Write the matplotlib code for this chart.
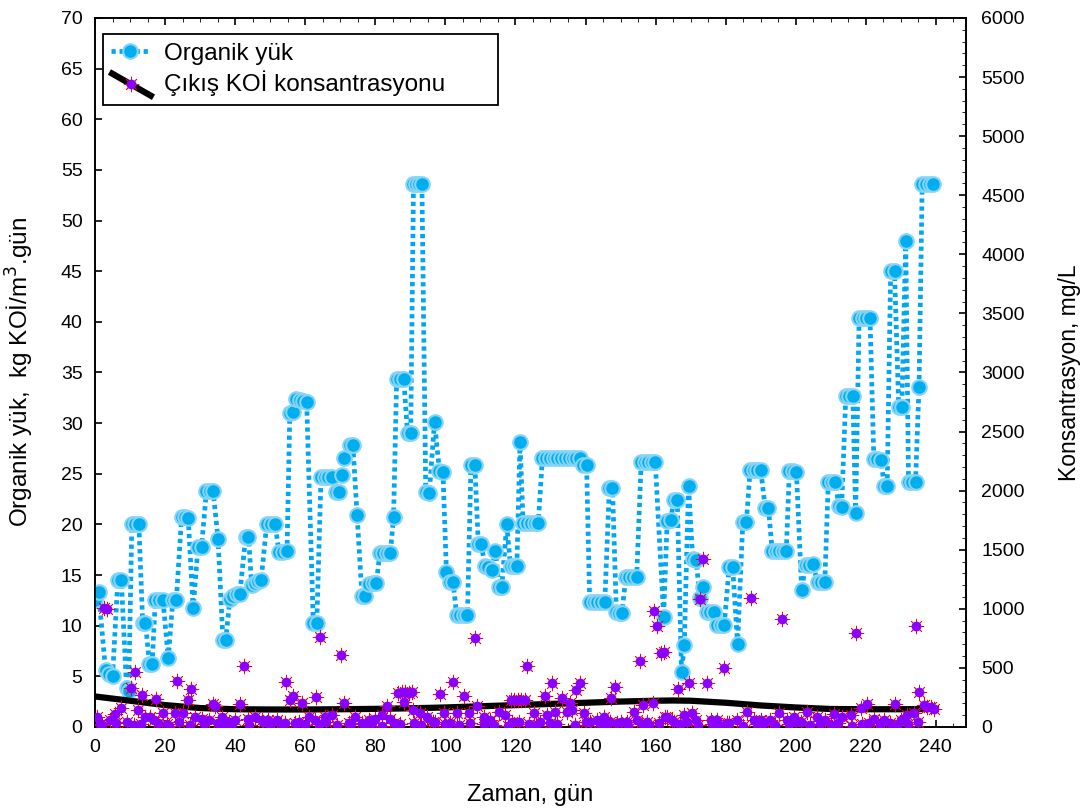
import matplotlib
matplotlib.use("Agg")
import matplotlib.pyplot as plt
from matplotlib.lines import Line2D
from matplotlib.ticker import MultipleLocator

plt.rcParams['font.family'] = ['Liberation Sans', 'DejaVu Sans']

# organic loading rate, kg KOI/m3.gun (left axis)
load_day = [0, 1, 3, 4, 5, 6.5, 7.5, 9, 9.6, 10.5, 11.5, 12.5, 13.6, 14.4, 15.5, 16.3,
            17.2, 18.3, 19.4, 20.9, 22.2, 23.2, 24.7, 25.7, 26.6, 28, 29.4, 30.4, 31.8,
            32.8, 33.7, 35.1, 36.5, 37.3, 38.5, 39.5, 40.5, 41.3, 43, 43.8, 44.7, 45.6,
            46.5, 47.4,
            49, 50.2, 51.4, 52.5, 53.6, 54.8, 55.6, 56.5, 57.4, 58.4, 59.4, 60.4, 62.3,
            63.3, 64.5, 65.5, 66.6, 67.7, 68.8, 69.6, 70.4, 71.1, 72.7, 73.6, 74.8, 76.2,
            77.1, 78.3, 79.3, 80.3, 81.3, 82.3, 83.3, 84.3, 85.2, 86.1, 87.1, 88.1, 89.2,
            90.1, 90.9, 91.7, 92.5, 93.3, 94.4, 95.4, 96.9, 98.3, 99.3,
            100.3, 101.3, 102.2, 103.2, 104.2, 105.3, 106.3, 107.3, 108.4, 109.4, 110.2,
            111.3, 112.3, 113.2, 114.3, 115.3, 116.1, 117.5, 118.6, 119.5, 120.4, 121.3,
            122.2, 123.3, 124.4, 125.5, 126.5, 127.7, 128.8, 129.9, 131, 132, 133.1,
            134.2, 135.3, 136.3, 137.4, 138.5, 139.4, 140.3, 141.2, 142.3, 143.4, 144.5,
            145.5,
            146.8, 147.7, 148.8, 149.6, 150.4, 151.5, 152.5, 153.5, 154.6, 155.9, 156.9,
            157.9, 158.9, 159.9, 162.3, 163.3, 164.3, 165.2, 166.2, 167.4, 168.2, 169.4,
            170.6, 171.6, 172.6, 173.6, 174.6, 175.6, 176.6, 177.6, 178.6, 179.6, 181,
            182, 183.4, 184.9, 185.9, 187, 188, 189, 190, 191.3, 192.2,
            193.3, 194.3, 195.3, 196.3, 197.3, 198.2, 199.2, 200.2, 201.7, 202.8, 203.8,
            204.8, 206.3, 207.3, 208.3, 209.3, 210.3, 211.3, 212.3, 213.1, 214.3, 215.3,
            216.3, 217.1, 218.1, 219.1, 220.1, 221.2, 222.3, 223.3, 224.3, 225.3, 226.1,
            227.1, 228.2, 229.4, 230.3, 231.4, 232.2, 233.2, 234.2, 235.2, 236.1, 237.1,
            238.2, 239.3]
load_val = [12.5, 13.3, 5.6, 5.2, 5.0, 14.5, 14.5, 3.8, 3.6, 20.0, 20.0, 20.0, 10.3, 10.3,
            6.2, 6.2, 12.5, 12.5, 12.5, 6.8, 12.5, 12.5, 20.7, 20.7, 20.6, 11.7, 17.8, 17.8,
            23.3, 23.3, 23.3, 18.6, 8.6, 8.6, 12.6, 12.9, 13.1, 13.1, 18.8, 18.8, 14.0,
            14.2, 14.4, 14.5,
            20.0, 20.0, 20.0, 17.3, 17.3, 17.4, 31.0, 31.1, 32.4, 32.3, 32.2, 32.1, 10.3,
            10.3, 24.7, 24.7, 24.7, 24.7, 23.2, 23.2, 24.9, 26.6, 27.8, 27.8, 20.9, 12.9,
            12.9, 14.1, 14.2, 14.2, 17.2, 17.2, 17.2, 17.2, 20.7, 34.4, 34.4, 34.4, 29.0,
            29.0, 53.6, 53.6, 53.6, 53.6, 23.2, 23.1, 30.1, 25.3, 25.2,
            15.3, 14.3, 14.3, 11.1, 11.1, 11.1, 11.1, 25.9, 25.9, 18.1, 18.1, 15.9, 15.8,
            15.5, 17.4, 13.8, 13.8, 20.0, 15.9, 15.9, 15.9, 28.1, 20.1, 20.1, 20.1, 20.1,
            20.1, 26.6, 26.6, 26.6, 26.6, 26.6, 26.6, 26.6, 26.6, 26.6, 26.6, 26.6, 25.9,
            25.9, 12.3, 12.3, 12.3, 12.3, 12.3,
            23.6, 23.6, 11.4, 11.3, 11.3, 14.8, 14.8, 14.8, 14.8, 26.2, 26.2, 26.2, 26.2,
            26.2, 10.9, 20.3, 20.4, 22.4, 22.4, 5.4, 8.1, 23.8, 16.6, 16.5, 12.7, 13.8,
            11.4, 11.4, 11.4, 10.1, 10.1, 10.1, 15.8, 15.8, 8.2, 20.2, 20.2, 25.4, 25.4,
            25.4, 25.4, 21.6, 21.6,
            17.4, 17.4, 17.4, 17.4, 17.4, 25.3, 25.3, 25.2, 13.5, 16.0, 16.0, 16.1, 14.3,
            14.3, 14.3, 24.2, 24.2, 24.2, 21.8, 21.7, 32.7, 32.7, 32.7, 21.1, 40.4, 40.4,
            40.4, 40.4, 26.5, 26.5, 26.4, 23.8, 23.8, 45.0, 45.0, 31.6, 31.6, 48.0, 24.2,
            24.2, 24.2, 33.6, 53.6, 53.6, 53.6, 53.6]

# effluent COD, mg/L (right axis)
cod_day = [2.5, 3.5, 10.3, 11.4, 13.3, 12.4, 17.3, 23.5, 26.4, 27.4, 33.8, 41.5, 42.6,
           54.6, 55.7, 56.6, 59, 63, 64.1, 70.1, 71.2, 83.2, 86.5, 87.5, 88.5, 89.5, 90.5,
           88.1, 98.4, 102.3, 105.2, 108.4, 118.7, 119.7, 120.7, 121.7, 122.7, 123.3,
           128.4, 130.5, 133.3, 135.5, 137.4, 138.4, 147.4, 148.5, 155.5, 156.5, 159.5,
           160.5, 161.5, 162.4, 166.4, 169.6, 172.8, 173.5, 174.7, 179.5, 186.2, 187.1,
           196.2, 195.2, 203.1, 211, 217.2, 218.5, 220.3, 228.2, 234.3, 235.3, 236.6,
           237.5, 238.5, 239.5,
           0.5, 1.4, 4.3, 5.7, 7.4, 9, 14.3, 15.7, 16.7, 19.5, 20.5, 22.9, 25, 28.6, 30.5,
           32.4, 34.3, 36.2, 38.1, 40, 43.8, 45.7, 47.6, 49.5, 51.9, 54.3, 58.1, 61, 62.9,
           65.7, 67.6, 72.4, 74.3, 76.2, 78.1, 80, 81.9, 84.3, 85.2, 90.9, 92.8, 94.7,
           96.6, 99.5, 101.4, 103.3, 106.6, 109, 110.9, 112.8, 115.2, 117.1, 119, 125.2,
           127.1, 129, 131.4, 134.7, 136.2, 139.5, 141.4, 143.3, 145.2, 147.1, 150, 151.9,
           153.8, 154.7, 157.6, 159.2, 162.8, 164.7, 163.3, 165.2, 168.1, 170.4, 171.4,
           175.7, 177.6, 180.4, 183.3, 188.1, 190, 192.8, 197.6, 199.5, 201.4, 206.2,
           208.5, 213.3, 215.7, 222.4, 225.2, 230, 231.9, 233.8,
           2, 6, 11, 13, 18, 21, 24, 27, 31, 35, 37, 39, 44, 48, 50, 53, 57, 60, 64, 66,
           69, 73, 77, 79, 82, 87, 91, 93, 97, 100, 104, 107, 111, 114, 118, 121, 124,
           126, 130, 132, 137, 140, 144, 146, 149, 152, 156, 158, 161, 167, 169, 172, 176,
           178, 181, 185, 189, 191, 194, 198, 200, 204, 207, 210, 212, 216, 219, 221, 224,
           227, 229, 232, 235]
cod_val = [1010, 995, 327, 468, 271, 144, 234, 392, 228, 319, 195, 195, 520,
           380, 228, 258, 200, 250, 765, 605, 205, 180, 290, 295, 300, 290, 295,
           215, 275, 380, 262, 750, 230, 230, 232, 232, 230, 512,
           262, 368, 248, 199, 312, 368, 248, 339, 558, 184, 980,
           857, 628, 635, 322, 371, 1085, 1420, 371, 503, 130, 1095,
           915, 120, 130, 110, 795, 158, 192, 192, 857, 298, 186,
           170, 165, 150,
           85, 28, 56, 110, 158, 42, 85, 85, 56, 115, 28, 115, 115, 85, 70,
           56, 175, 85, 42, 56, 70, 85, 56, 56, 56, 34, 42, 85, 56,
           85, 100, 34, 85, 34, 56, 70, 100, 70, 34, 144, 115, 85,
           42, 115, 34, 115, 121, 175, 85, 56, 127, 100, 42, 115,
           42, 100, 127, 127, 144, 115, 42, 56, 85, 42, 42, 42,
           127, 62, 42, 200, 85, 62, 85, 42, 100, 115, 62,
           56, 62, 34, 56, 62, 56, 56, 56, 85, 42, 85,
           56, 85, 100, 70, 56, 56, 100, 115,
           20, 35, 15, 25, 30, 12, 40, 18, 22, 35, 15, 28, 20, 38, 14, 25, 30, 18, 22, 40,
           15, 28, 20, 35, 12, 25, 30, 18, 40, 22, 15, 35, 28, 20, 12, 38, 25,
           18, 30, 22, 15, 40, 28, 20, 35, 12, 25, 18, 30, 22, 40, 15, 28,
           20, 35, 12, 25, 30, 18, 22, 40, 15, 28, 20, 35, 12, 25, 30, 18,
           30, 18, 22, 40]

# smoothed fit of effluent COD, mg/L
fit_day = [0, 10, 20, 30, 40, 50, 60, 70, 80, 90, 100, 110, 120, 130, 140, 150, 160,
           165, 170, 180, 190, 200, 210, 220, 230, 240]
fit_val = [258, 222, 185, 160, 150, 148, 148, 150, 153, 158, 165, 175, 185, 195, 205,
           215, 222, 224, 222, 205, 182, 165, 152, 150, 150, 152]


class DiagonalHandler:
    # legend key: thick black diagonal stroke with the point marker on it
    def legend_artist(self, legend, orig_handle, fontsize, handlebox):
        x0, y0 = handlebox.xdescent, handlebox.ydescent
        w, h = handlebox.width, handlebox.height
        tr = handlebox.get_transform()
        line = Line2D([x0 + 0.02 * w, x0 + w * 1.08], [y0 + 1.05 * h, y0 - 0.25 * h],
                      color='black', linewidth=4.5, transform=tr)
        star = Line2D([x0 + w * 0.55], [y0 + h * 0.42], marker=(8, 2, 0), markersize=11,
                      markeredgecolor='#FF0000', markeredgewidth=0.6, linestyle='none',
                      transform=tr)
        dot = Line2D([x0 + w * 0.55], [y0 + h * 0.42], marker='o', markersize=6,
                     markerfacecolor='#8A00FF', markeredgecolor='#8A00FF',
                     linestyle='none', transform=tr)
        for art in (line, star, dot):
            handlebox.add_artist(art)
        return line


fig = plt.figure(figsize=(10.85, 8.09), dpi=100)
ax = fig.add_axes([0.0876, 0.1014, 0.8027, 0.8764])
ax2 = ax.twinx()

blue_line, = ax.plot(load_day, load_val, color='#00A6F2', linewidth=3.4,
                     linestyle=(0, (0.9, 0.8)), marker='o', markersize=10.5,
                     markerfacecolor='#00AEEF', markeredgecolor='#86D4F8',
                     markeredgewidth=1.5, zorder=3)

black_line, = ax2.plot(fit_day, fit_val, color='black', linewidth=4.5, zorder=2)
ax2.plot(cod_day, cod_val, linestyle='none', marker=(8, 2, 0), markersize=11,
         markeredgecolor='#FF0000', markeredgewidth=0.55, zorder=4)
ax2.plot(cod_day, cod_val, linestyle='none', marker='o', markersize=6,
         markerfacecolor='#8A00FF', markeredgecolor='#8A00FF', zorder=5)

ax.set_xlim(0, 248.6)
ax.set_ylim(0, 70)
ax2.set_ylim(0, 6000)
ax.xaxis.set_major_locator(MultipleLocator(20))
ax.xaxis.set_minor_locator(MultipleLocator(5))
ax.yaxis.set_major_locator(MultipleLocator(5))
ax2.yaxis.set_major_locator(MultipleLocator(500))
ax2.yaxis.set_minor_locator(MultipleLocator(100))

ax.tick_params(top=True, which='both')
for a in (ax, ax2):
    a.tick_params(direction='in', labelsize=14, width=1.2, length=5, pad=9)
    a.tick_params(which='minor', direction='in', length=3)
    for s in a.spines.values():
        s.set_linewidth(1.2)
ax2.tick_params(pad=11)

ax.set_xlabel("Zaman, gün", fontsize=17, labelpad=20)
ax.set_ylabel("Organik yük,  kg KOİ/m$^3$.gün", fontsize=17.5, labelpad=18)
ax2.set_ylabel("Konsantrasyon, mg/L", fontsize=16.5, labelpad=24)

leg = ax2.legend([blue_line, black_line],
                 ["Organik yük", "Çıkış KOİ konsantrasyonu"],
                 handler_map={black_line: DiagonalHandler()},
                 loc='upper left', bbox_to_anchor=(0.009, 0.02, 0.4535, 0.957),
                 mode='expand', fontsize=17.5,
                 fancybox=False, framealpha=1, edgecolor='black',
                 handlelength=1.5, handletextpad=0.65, borderpad=0.35,
                 labelspacing=0.25, borderaxespad=0)
leg.get_frame().set_linewidth(1.3)

fig.savefig("out.png", dpi=100)
